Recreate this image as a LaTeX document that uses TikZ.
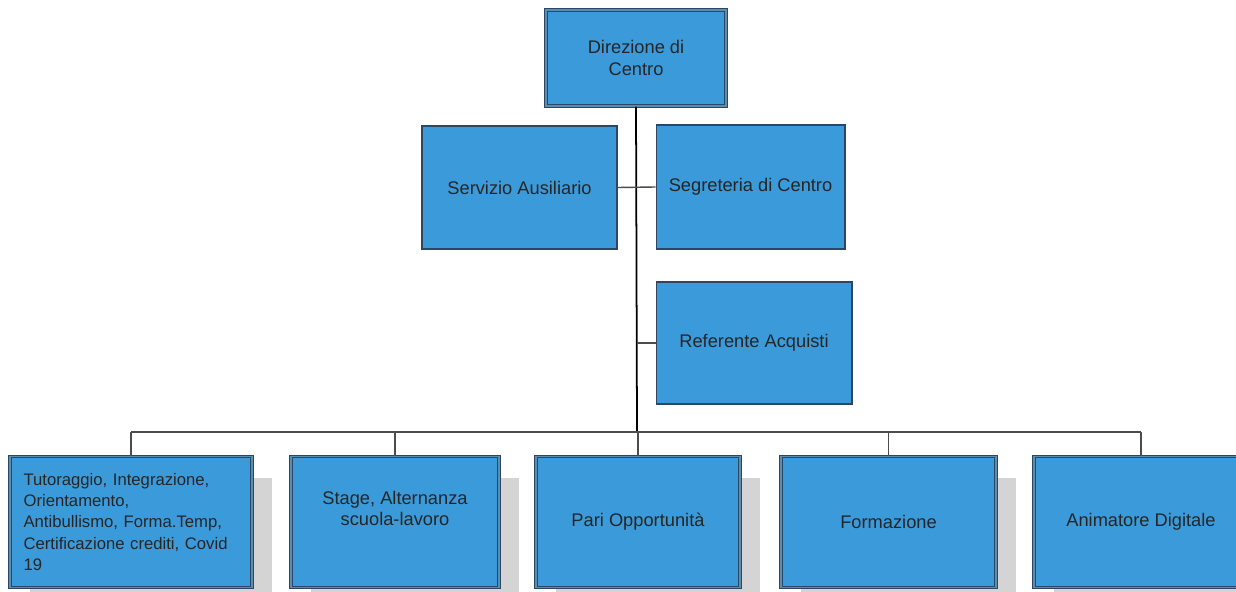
\documentclass[tikz,border=0pt]{standalone}
\usepackage{fontspec}
\setmainfont{Liberation Sans}
\usepackage{tikz}

\definecolor{boxblue}{RGB}{58,154,218}
\definecolor{boxline}{RGB}{44,70,100}
\definecolor{shadowgray}{RGB}{212,212,212}

\tikzset{
	box/.style={fill=boxblue, draw=boxline, line width=0.6pt, align=center,
		font=\fontsize{10.4}{12}\selectfont, text=black!85},
	dbox/.style={box, double=boxblue!55!gray, double distance=0.9pt},
	link/.style={draw=black!70, line width=0.8pt}
}

\begin{document}
\begin{tikzpicture}[x=0.02cm, y=-0.02cm]
\useasboundingbox[fill=white] (0,0) rectangle (1236,591);

% vertice
\node[dbox, minimum width=3.6cm, minimum height=1.92cm] (dir) at (636,58) {Direzione di\\Centro};

% staff
\node[box, minimum width=3.9cm, minimum height=2.46cm] (serv) at (519.5,187.5) {Servizio Ausiliario};
\node[box, minimum width=3.78cm, minimum height=2.48cm] (segr) at (750.5,187) {Segreteria di Centro};
\node[box, minimum width=3.92cm, minimum height=2.44cm] (acq) at (754,343) {Referente Acquisti};

\coordinate (bus) at (637,432);
\draw[line width=1pt] (dir.south) -- (bus);
\draw[link] (serv.east) -- (segr.west);
\draw[link] (acq.west) -- (acq.west -| bus);

% aree
\foreach \xa/\w in {131/4.84, 395/4.16, 638/4.08, 888.5/4.3, 1141/4.28} {
	\fill[shadowgray] (\xa - \w * 25 + 20, 478) rectangle ++(\w cm, -2.62cm);
}
\node[dbox, minimum width=4.84cm, minimum height=2.62cm, text width=4.3cm, align=left,
	font=\fontsize{9.5}{12}\selectfont] (b1) at (131,522)
	{Tutoraggio, Integrazione,\\Orientamento,\\Antibullismo, Forma.Temp,\\Certificazione crediti, Covid\\19};
\node[dbox, minimum width=4.16cm, minimum height=2.62cm] (b2) at (395,522) {Stage, Alternanza\\scuola-lavoro\\[4pt]};
\node[dbox, minimum width=4.08cm, minimum height=2.62cm] (b3) at (638,522) {Pari Opportunità};
\node[dbox, minimum width=4.3cm, minimum height=2.62cm] (b4) at (888.5,522) {Formazione};
\node[dbox, minimum width=4.28cm, minimum height=2.62cm] (b5) at (1141,522) {Animatore Digitale};

\draw[link] (b1.north |- bus) -- (b5.north |- bus);
\foreach \i in {1,...,5} {
	\draw[link] (b\i.north) -- (b\i.north |- bus);
}
\end{tikzpicture}
\end{document}
